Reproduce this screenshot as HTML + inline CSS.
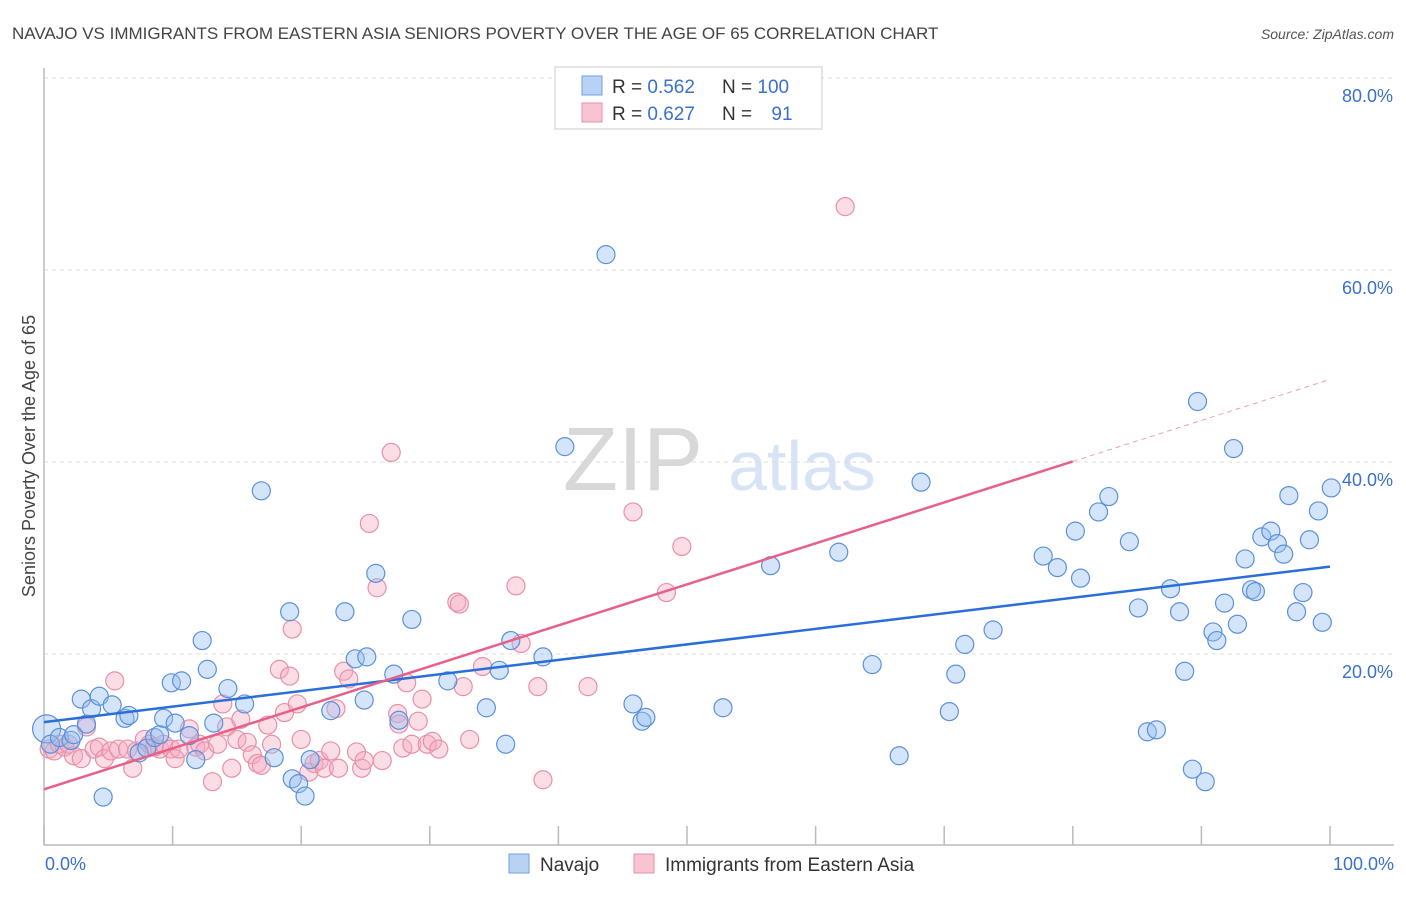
<!DOCTYPE html>
<html><head><meta charset="utf-8"><style>
body{margin:0;background:#fff;font-family:"Liberation Sans",sans-serif;}
svg text{font-family:"Liberation Sans",sans-serif;}
</style></head><body>
<svg id="c" width="1406" height="892" xmlns="http://www.w3.org/2000/svg">
<text x="12" y="39" font-size="17" fill="#444">NAVAJO VS IMMIGRANTS FROM EASTERN ASIA SENIORS POVERTY OVER THE AGE OF 65 CORRELATION CHART</text>
<text x="1394" y="39" font-size="14" fill="#555" font-style="italic" text-anchor="end">Source: ZipAtlas.com</text>
<text x="633" y="490" font-size="90" fill="#d8d8d8" font-family="Liberation Serif" text-anchor="middle">ZIP</text>
<text x="802" y="490" font-size="70" fill="#d6e4f5" text-anchor="middle">atlas</text>
<g id="grid"></g>
<line x1="44" y1="68" x2="44" y2="845" stroke="#bbb" stroke-width="1.5"/>
<line x1="44" y1="845" x2="1394" y2="845" stroke="#bbb" stroke-width="1.5"/>
<g id="ticks"></g>
<g id="pts"></g>
<g id="lines"></g>
<text x="35" y="456" font-size="18" fill="#444" text-anchor="middle" transform="rotate(-90 35 456)">Seniors Poverty Over the Age of 65</text>
<text x="45" y="870" font-size="18" fill="#3a70d0">0.0%</text>
<text x="1394" y="870" font-size="18" fill="#3a70d0" text-anchor="end">100.0%</text>
<g>
<rect x="555" y="67" width="267" height="62" fill="#fff" stroke="#ccc"/>
<rect x="582" y="76" width="20" height="19" fill="#b8d2f4" stroke="#6fa0e0"/>
<rect x="582" y="103" width="20" height="19" fill="#f8c4d2" stroke="#e890a8"/>
<text x="612" y="93" font-size="19" fill="#333">R = <tspan fill="#3a70d0">0.562</tspan></text>
<text x="722" y="93" font-size="19" fill="#333">N = <tspan fill="#3a70d0">100</tspan></text>
<text x="612" y="120" font-size="19" fill="#333">R = <tspan fill="#3a70d0">0.627</tspan></text>
<text x="722" y="120" font-size="19" fill="#333">N = <tspan fill="#3a70d0" dx="14">91</tspan></text>
</g>
<g>
<rect x="509" y="854" width="20" height="19" fill="#b8d2f4" stroke="#6fa0e0"/>
<text x="540" y="871" font-size="19" fill="#333">Navajo</text>
<rect x="634" y="854" width="20" height="19" fill="#f8c4d2" stroke="#e890a8"/>
<text x="665" y="871" font-size="19" fill="#333">Immigrants from Eastern Asia</text>
</g>
</svg>
<script>
const yTicks=[20,40,60,80];
const xTicks=[0,10,20,30,40,50,60,70,80,90,100];
const navajoX=[0.2,0.5,1.2,2.1,2.3,2.9,3.3,3.7,4.3,4.6,5.3,6.3,6.6,7.4,8.0,8.6,9.0,9.3,9.9,10.2,10.7,11.3,11.8,12.3,12.7,13.2,14.3,15.6,16.9,17.9,19.1,19.3,19.8,20.3,20.7,22.3,23.4,24.2,25.1,25.8,24.9,27.2,27.6,28.6,31.4,34.4,35.9,36.3,35.4,38.8,40.5,43.7,45.8,46.5,46.8,52.8,56.5,61.8,64.4,66.5,68.2,70.4,70.9,71.6,73.8,77.7,78.8,80.2,80.6,82.0,82.8,84.4,85.1,85.8,86.5,87.6,88.3,88.7,89.3,89.7,90.3,90.9,91.2,91.8,92.5,92.8,93.4,93.9,94.2,94.7,95.4,95.9,96.4,96.8,97.4,97.9,98.4,99.1,99.4,100.1];
const navajoY=[12.2,10.6,11.3,11.0,11.6,15.3,12.7,14.3,15.6,5.1,14.7,13.3,13.6,9.7,10.2,11.3,11.6,13.3,17.0,12.8,17.2,11.5,9.0,21.4,18.4,12.8,16.4,14.8,37.0,9.2,24.4,7.0,6.5,5.2,9.0,14.1,24.4,19.5,19.7,28.4,15.2,17.9,13.1,23.6,17.2,14.4,10.6,21.4,18.3,19.7,41.6,61.6,14.8,13.0,13.4,14.4,29.2,30.6,18.9,9.4,37.9,14.0,17.9,21.0,22.5,30.2,29.0,32.8,27.9,34.8,36.4,31.7,24.8,11.9,12.1,26.8,24.4,18.2,8.0,46.3,6.7,22.3,21.4,25.3,41.4,23.1,29.9,26.7,26.5,32.2,32.8,31.5,30.4,36.5,24.4,26.4,31.9,34.9,23.3,37.3];
const immX=[0.4,0.8,1.2,1.6,1.9,2.3,2.9,3.3,3.9,4.3,4.7,5.2,5.5,5.8,6.5,6.9,7.2,7.8,8.2,8.6,9.0,9.3,9.9,10.2,10.5,11.3,11.8,12.1,12.5,13.1,13.5,13.9,14.2,14.6,15.0,15.3,15.8,16.2,16.6,16.9,17.4,17.7,18.3,18.7,19.1,19.3,19.7,20.0,20.6,21.0,21.4,21.8,22.3,22.7,22.9,23.3,23.7,24.3,24.7,24.9,25.3,25.9,26.3,27.0,27.5,27.6,27.9,28.2,28.6,29.1,29.4,29.8,30.2,30.7,32.1,32.3,32.6,33.1,34.1,36.7,37.1,38.4,38.8,42.3,45.8,48.4,49.6,62.3];
const immY=[10.1,9.9,10.6,10.3,10.6,9.4,9.1,12.4,10.1,10.3,9.1,9.9,17.2,10.1,10.1,8.1,9.9,11.1,10.6,10.3,10.1,10.6,10.1,9.1,10.1,12.2,10.3,10.6,9.9,6.7,10.6,14.8,12.4,8.1,11.1,13.2,10.8,9.5,8.6,8.4,12.6,10.6,18.4,13.9,17.7,22.6,14.8,11.1,7.7,8.6,8.9,8.1,9.9,14.3,8.1,18.2,17.4,9.8,8.1,8.9,33.6,26.9,8.9,41.0,13.8,12.7,10.2,17.0,10.6,13.0,15.3,10.6,10.9,10.1,25.4,25.2,16.6,11.1,18.7,27.1,21.1,16.6,6.9,16.6,34.8,26.4,31.2,66.6];
const navajoLine=[12.9,29.1];
const immLine=[5.9,48.6];
const NS='http://www.w3.org/2000/svg';
const X=v=>44+v*12.86, Y=v=>846-v*9.6;
function mk(t,a,p){const e=document.createElementNS(NS,t);for(const k in a)e.setAttribute(k,a[k]);p.appendChild(e);return e;}
const g=document.getElementById('grid');
yTicks.forEach(t=>{const l=mk('line',{x1:44,x2:1394,y1:Y(t),y2:Y(t),stroke:'#ddd','stroke-dasharray':'4,4'},g);


const tx=mk('text',{x:1393,y:Y(t)+24,'font-size':18,fill:'#3a70d0','text-anchor':'end'},g);tx.textContent=t.toFixed(1)+'%';

});
const tk=document.getElementById('ticks');
xTicks.forEach(t=>{const l=mk('line',{x1:X(t),x2:X(t),y1:826,y2:845,stroke:'#bbb','stroke-width':1.5},tk);

});
const P=document.getElementById('pts');
immX.forEach((x,i)=>{const c=mk('circle',{cx:X(x),cy:Y(immY[i]),r:9,fill:'rgba(245,170,192,0.4)',stroke:'#e890a8','stroke-width':1.2},P);

});
navajoX.forEach((x,i)=>{const c=mk('circle',{cx:X(x),cy:Y(navajoY[i]),r:i==0?14:9,fill:'rgba(150,190,240,0.4)',stroke:'#5b90dc','stroke-width':1.2},P);

});
const L=document.getElementById('lines');
let a=mk('line',{x1:X(0),y1:Y(navajoLine[0]),x2:X(100),y2:Y(navajoLine[1]),stroke:'#2a6ed8','stroke-width':2.5},L);


const iy=x=>immLine[0]+(immLine[1]-immLine[0])*x/100;
let b=mk('line',{x1:X(0),y1:Y(iy(0)),x2:X(80),y2:Y(iy(80)),stroke:'#e8608a','stroke-width':2.5},L);


let d=mk('line',{x1:X(80),y1:Y(iy(80)),x2:X(100),y2:Y(iy(100)),stroke:'#e8a0b8','stroke-width':1,'stroke-dasharray':'5,4'},L);


</script>
</body></html>
